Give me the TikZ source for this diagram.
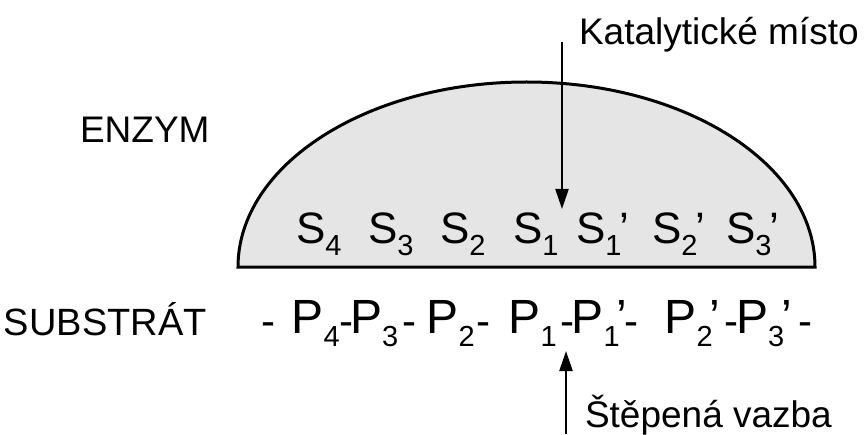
\documentclass[tikz,border=0pt]{standalone}
\usepackage{fontspec}
\setmainfont{Liberation Sans}
\usetikzlibrary{arrows.meta}
\newcommand\ssub[1]{\raisebox{-12pt}{\fontsize{29}{29}\selectfont #1}}
\newcommand\psub[1]{\raisebox{-13pt}{\fontsize{29}{29}\selectfont #1}}
\newcommand\bondhy{\raisebox{-2pt}{\fontsize{42}{42}\selectfont -}}
\newcommand\putat[2]{\makebox[0pt][l]{\hspace*{#1}#2}}
\begin{document}
\begin{tikzpicture}[x=1pt,y=1pt,
  lbl/.style={anchor=base west,inner sep=0pt,outer sep=0pt,font=\fontsize{37}{37}\selectfont},
  sitelbl/.style={anchor=base west,inner sep=0pt,outer sep=0pt,font=\fontsize{44}{44}\selectfont},
  reslbl/.style={anchor=base west,inner sep=0pt,outer sep=0pt,font=\fontsize{48}{48}\selectfont},
  pointer/.style={line width=2.2pt,-{Triangle[length=20pt,width=13pt]}},
  dome/.style={line width=3pt,fill=black!10,draw=black}]
\useasboundingbox (0,0) rectangle (866,434);
% enzyme dome
\draw[dome] (238,167) arc[start angle=180,end angle=0,x radius=288.5,y radius=185] -- cycle;
% labels
\node[lbl] (enzym) at (80,291) {ENZYM};
\node[lbl,font=\fontsize{38}{38}\selectfont] (substrat) at (4,99) {SUBSTRÁT};
\node[lbl] (katal) at (579,389) {Katalytické místo};
\node[lbl] (stepena) at (585,7) {Štěpená vazba};
% S sites
\node[sitelbl] (s4) at (296,191) {S\ssub{4}};
\node[sitelbl] (s3) at (368,191) {S\ssub{3}};
\node[sitelbl] (s2) at (440,191) {S\ssub{2}};
\node[sitelbl] (s1) at (513,191) {S\ssub{1}};
\node[sitelbl] (s1p) at (576,191) {S\ssub{1}\kern-2pt’};
\node[sitelbl] (s2p) at (652,191) {S\ssub{2}\kern-2pt’};
\node[sitelbl] (s3p) at (726,191) {S\ssub{3}\kern-2pt’};
% P residues (substrate chain)
\node[reslbl] (h0) at (261,101) {\bondhy};
\node[reslbl] (pA) at (291.5,101) {\putat{0pt}{P\psub{4}}\putat{47.5pt}{\bondhy}\putat{58.5pt}{P\psub{3}}\putat{110.5pt}{\bondhy}\hspace*{124pt}};
\node[reslbl] (pB) at (426.5,101) {\putat{0pt}{P\psub{2}}\putat{49.5pt}{\bondhy}\hspace*{63pt}};
\node[reslbl] (pC) at (508.5,101) {\putat{0pt}{P\psub{1}}\putat{51.5pt}{\bondhy}\putat{63pt}{P\psub{1}\kern-3pt’}\putat{115.5pt}{\bondhy}\hspace*{129pt}};
\node[reslbl] (pD) at (664.5,101) {\putat{0pt}{P\psub{2}\kern-3pt’}\putat{59.5pt}{\bondhy}\putat{71.5pt}{P\psub{3}\kern-3pt’}\putat{133.5pt}{\bondhy}\hspace*{147pt}};
% arrows
\coordinate (catstart) at (562,392);
\coordinate (cattip) at (562,225);
\coordinate (cutstart) at (566,0);
\coordinate (cuttip) at (566,83);
\draw[pointer] (catstart) -- (cattip);
\draw[pointer] (cutstart) -- (cuttip);
\end{tikzpicture}
\end{document}
